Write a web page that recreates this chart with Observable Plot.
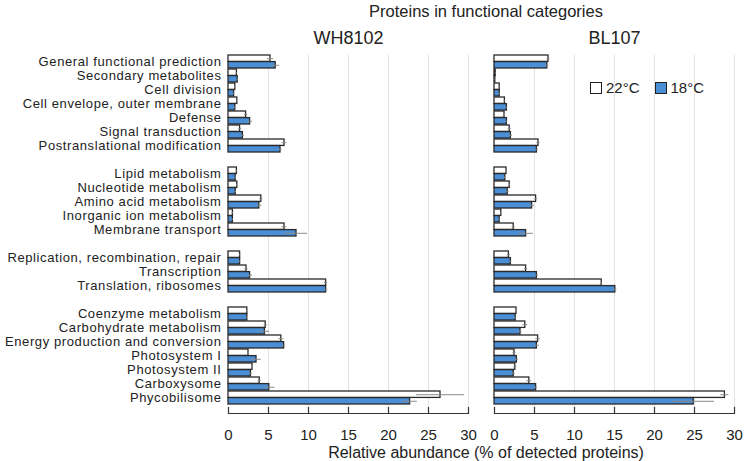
<!DOCTYPE html>
<html><head><meta charset="utf-8">
<script src="https://cdn.jsdelivr.net/npm/d3@7"></script>
<script src="https://cdn.jsdelivr.net/npm/@observablehq/plot@0.6"></script>
<style>
body{margin:0;background:#fff;font-family:"Liberation Sans",Arial,sans-serif;color:#222;}
#wrap{position:relative;width:744px;height:461px;}
#title{height:22px;line-height:22px;font-size:16.5px;text-align:center;padding-left:228px;box-sizing:border-box;width:744px;}
#caption{height:17px;line-height:17px;font-size:16px;text-align:center;padding-left:228px;box-sizing:border-box;width:744px;}
#legend{position:absolute;left:590px;top:79px;font-size:15px;display:flex;align-items:center;}
#legend .sw{display:inline-block;width:10px;height:10px;border:1.5px solid #222;margin-right:4px;}
#chart g[aria-label="y-axis tick label"] text{letter-spacing:0.6px;}
</style></head>
<body><div id="wrap">
<div id="title">Proteins in functional categories</div>
<div id="chart"></div>
<div id="caption">Relative abundance (% of detected proteins)</div>
<div id="legend"><span class="sw" style="background:#fff"></span><span style="margin-right:15px">22°C</span><span class="sw" style="background:#4a8ed6"></span><span>18°C</span></div>
</div>
<script>
const strains = ["WH8102", "BL107"];
const temps = ["22°C", "18°C"];
const groupA = ["General functional prediction","Secondary metabolites","Cell division","Cell envelope, outer membrane","Defense","Signal transduction","Postranslational modification"];
const groupB = ["Lipid metabolism","Nucleotide metabolism","Amino acid metabolism","Inorganic ion metabolism","Membrane transport"];
const groupC = ["Replication, recombination, repair","Transcription","Translation, ribosomes"];
const groupD = ["Coenzyme metabolism","Carbohydrate metabolism","Energy production and conversion","Photosystem I","Photosystem II","Carboxysome","Phycobilisome"];
const categories = [...groupA, ...groupB, ...groupC, ...groupD];

const wh22 = [5.25,1.05,0.85,1.1,2.2,1.45,7.0, 1.05,1.1,4.1,0.55,7.0, 1.45,2.25,12.2, 2.35,4.65,6.6,2.5,3.0,3.9,26.5];
const wh18 = [5.9,1.15,0.7,0.85,2.7,1.8,6.5, 0.9,0.9,3.85,0.55,8.5, 1.45,2.7,12.2, 2.35,4.55,6.95,3.5,2.8,5.1,22.7];
const bl22 = [6.75,0.15,0.65,1.3,1.25,1.9,5.5, 1.5,1.9,5.2,0.85,2.4, 1.8,3.95,13.4, 2.75,3.85,5.45,2.5,2.6,4.35,28.8];
const bl18 = [6.6,0.1,0.65,1.55,1.55,2.05,5.3, 1.35,1.65,4.7,0.65,3.95, 2.05,5.3,15.1, 2.65,3.25,5.3,2.8,2.4,5.2,24.9];
const wh22sd = [0.4,0.1,0.1,0.1,0.2,0.2,0.3, 0.1,0.1,0.2,0.1,0.3, 0.1,0.2,0.2, 0.1,0.2,0.3,0.1,0.1,0.2,3.0];
const wh18sd = [0.5,0.1,0.1,0.1,0.3,0.2,0.2, 0.1,0.1,0.3,0.1,1.4, 0.1,0.3,0.2, 0.1,0.6,0.2,0.6,0.2,0.7,0.9];
const bl22sd = [0.2,0.05,0.1,0.1,0.1,0.2,0.2, 0.1,0.1,0.2,0.1,0.2, 0.2,0.2,0.1, 0.1,0.3,0.3,0.2,0.2,0.3,0.5];
const bl18sd = [0.2,0.05,0.1,0.1,0.1,0.2,0.2, 0.1,0.2,0.3,0.1,0.9, 0.1,0.2,0.2, 0.1,0.2,0.3,0.2,0.2,0.2,2.6];
const xTicks = [0,5,10,15,20,25,30];

const series = [
  {strain:"WH8102", temp:"22°C", v:wh22, sd:wh22sd},
  {strain:"WH8102", temp:"18°C", v:wh18, sd:wh18sd},
  {strain:"BL107", temp:"22°C", v:bl22, sd:bl22sd},
  {strain:"BL107", temp:"18°C", v:bl18, sd:bl18sd}
];
const data = series.flatMap(s => categories.map((c,i) => ({strain:s.strain, temp:s.temp, category:c, value:s.v[i], sd:s.sd[i]})));
const d22 = data.filter(d => d.temp === "22°C");
const d18 = data.filter(d => d.temp === "18°C");

const yDomain = [...groupA, " ", ...groupB, "  ", ...groupC, "   ", ...groupD];
const half = 6.58;
const BLUE = "#4a8ed6";

const chart = Plot.plot({
  width: 744, height: 422,
  marginTop: 33, marginBottom: 31, marginLeft: 227, marginRight: 9,
  style: {fontFamily: '"Liberation Sans", Arial, sans-serif', fontSize: "14px", color: "#222", background: "#fff"},
  fx: {domain: strains, paddingInner: 0.097, paddingOuter: 0},
  x: {domain: [0, 30]},
  y: {domain: yDomain, paddingInner: 0.06, paddingOuter: 0.03, insetBottom: 8},
  marks: [
    Plot.gridX({ticks: [5,10,15,20,25,30], stroke: "#e2e2e2", strokeOpacity: 1}),
    Plot.barX(d22, {x: "value", y: "category", fx: "strain", fill: "#fff", stroke: "#2a2a2a", strokeWidth: 1.3, insetBottom: half}),
    Plot.barX(d18, {x: "value", y: "category", fx: "strain", fill: BLUE, stroke: "#2a2a2a", strokeWidth: 1.3, insetTop: half}),
    Plot.ruleY(d22, {y: "category", fx: "strain", x1: d => d.value - d.sd, x2: d => d.value + d.sd, stroke: "#8a8a8a", strokeWidth: 1, dy: -half/2}),
    Plot.ruleY(d18, {y: "category", fx: "strain", x1: d => d.value - d.sd, x2: d => d.value + d.sd, stroke: "#8a8a8a", strokeWidth: 1, dy: half/2}),
    Plot.frame({anchor: "bottom", stroke: "#333", strokeWidth: 1.2}),
    Plot.axisX({ticks: xTicks, tickSize: -6, tickPadding: 22, fontSize: 15, label: null, stroke: "#333", strokeWidth: 1.2}),
    Plot.axisY({tickSize: 0, tickPadding: 7, fontSize: 13, label: null}),
    Plot.axisFx({anchor: "top", tickSize: 0, tickPadding: 12, fontSize: 18, label: null})
  ]
});
document.getElementById("chart").append(chart);
</script>
</body></html>
